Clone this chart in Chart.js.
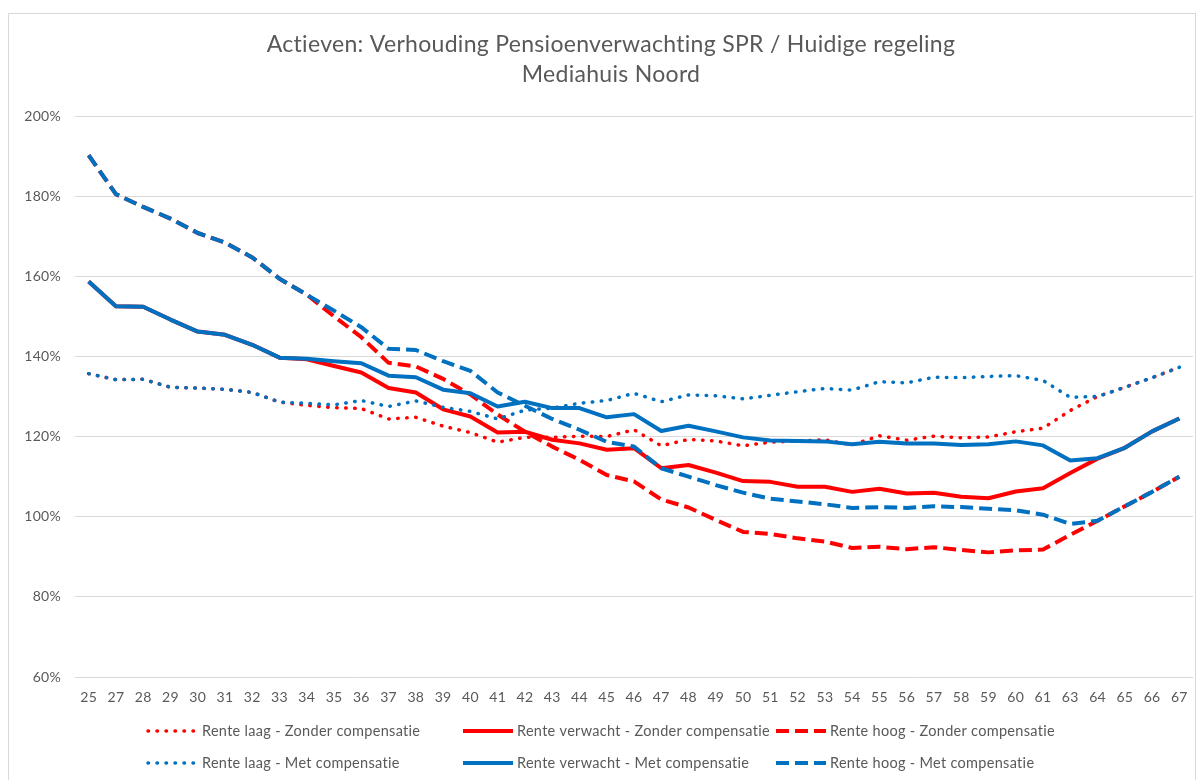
<!DOCTYPE html>
<html>
<head>
<meta charset="utf-8">
<title>Actieven: Verhouding Pensioenverwachting SPR / Huidige regeling</title>
<script src="https://cdn.jsdelivr.net/npm/chart.js@4/dist/chart.umd.min.js"></script>
<style>
  html, body { margin: 0; padding: 0; background: #fff; }
  #wrap { width: 1200px; height: 780px; }
</style>
</head>
<body>
<div id="wrap"><canvas id="spr" width="1200" height="780"></canvas></div>
<script>
// Leeftijden op de x-as (26 en 62 ontbreken in het origineel)
const leeftijden = [25, 27, 28, 29, 30, 31, 32, 33, 34, 35, 36, 37, 38, 39, 40, 41, 42, 43, 44, 45, 46,
    47, 48, 49, 50, 51, 52, 53, 54, 55, 56, 57, 58, 59, 60, 61, 63, 64, 65, 66, 67];

// Waarden in procenten
const laagZonder = [135.7, 134.2, 134.3, 132.3, 132.1, 131.8, 131.0, 128.6, 127.8, 127.2, 127.0, 124.4, 124.8, 122.6, 121.0, 118.6, 119.8, 119.8, 120.1, 120.0, 121.7,
    117.7, 119.3, 118.9, 117.7, 118.6, 118.9, 119.2, 117.9, 120.2, 119.1, 120.1, 119.7, 119.9, 121.2, 122.1, 126.5, 130.0, 132.3, 134.7, 137.3];
const verwachtZonder = [158.7, 152.5, 152.4, 149.2, 146.2, 145.4, 142.9, 139.7, 139.3, 137.6, 136.0, 132.1, 131.0, 126.8, 125.0, 121.0, 121.2, 119.2, 118.3, 116.7, 117.1,
    112.1, 112.9, 111.0, 108.9, 108.7, 107.5, 107.5, 106.2, 107.0, 105.8, 106.0, 105.0, 104.6, 106.3, 107.1, 110.9, 114.5, 117.2, 121.3, 124.5];
const hoogZonder = [190.2, 180.5, 177.3, 174.4, 170.8, 168.4, 164.7, 159.4, 155.4, 150.0, 144.8, 138.4, 137.5, 134.4, 130.5, 125.5, 121.2, 117.5, 114.2, 110.4, 108.8,
    104.3, 102.3, 99.2, 96.2, 95.7, 94.6, 93.8, 92.2, 92.5, 91.9, 92.4, 91.7, 91.1, 91.6, 91.8, 95.5, 99.0, 102.6, 106.2, 110.0];
const laagMet = [135.7, 134.2, 134.3, 132.3, 132.1, 131.8, 131.0, 128.6, 128.3, 127.9, 129.0, 127.5, 128.9, 127.3, 126.3, 124.4, 126.6, 127.1, 128.3, 129.0, 130.8,
    128.7, 130.4, 130.2, 129.4, 130.3, 131.2, 132.0, 131.6, 133.7, 133.4, 134.8, 134.7, 135.0, 135.2, 134.0, 129.8, 130.0, 132.3, 134.7, 137.3];
const verwachtMet = [158.7, 152.5, 152.4, 149.2, 146.2, 145.4, 142.9, 139.7, 139.4, 138.8, 138.3, 135.2, 134.8, 131.7, 130.8, 127.5, 128.7, 127.1, 127.1, 124.8, 125.6,
    121.4, 122.7, 121.3, 119.8, 119.0, 118.9, 118.8, 118.1, 118.7, 118.3, 118.3, 117.9, 118.1, 118.8, 117.8, 114.0, 114.6, 117.2, 121.3, 124.5];
const hoogMet = [190.2, 180.5, 177.3, 174.4, 170.8, 168.4, 164.7, 159.4, 155.4, 151.4, 147.3, 141.9, 141.6, 138.8, 136.4, 131.0, 127.7, 124.4, 121.7, 118.7, 117.5,
    112.1, 110.0, 107.9, 106.0, 104.5, 103.8, 103.1, 102.2, 102.4, 102.2, 102.6, 102.4, 102.0, 101.6, 100.5, 98.2, 99.0, 102.6, 106.2, 110.0];

const reeksNamen = [
    'Rente laag - Zonder compensatie', 'Rente verwacht - Zonder compensatie', 'Rente hoog - Zonder compensatie',
    'Rente laag - Met compensatie', 'Rente verwacht - Met compensatie', 'Rente hoog - Met compensatie'
];
const titelRegels = ['Actieven: Verhouding Pensioenverwachting SPR / Huidige regeling', 'Mediahuis Noord'];
const yTicks = [60, 80, 100, 120, 140, 160, 180, 200];

const ROOD = '#FF0000';
const BLAUW = '#0070C0';
const TEKST = '#595959';
const FONT = 'Lato';

// lijnstijlen: stippel, doorgetrokken, streep
const stijlen = {
    laag: { borderWidth: 3.5, borderDash: [0.5, 8.5], borderCapStyle: 'round' },
    verwacht: { borderWidth: 4, borderDash: [], borderCapStyle: 'butt' },
    hoog: { borderWidth: 4, borderDash: [13, 6], borderCapStyle: 'butt' }
};

function maakReeks(naam, data, kleur, stijl, volgorde) {
    return Object.assign({
        label: naam,
        data: data,
        borderColor: kleur,
        backgroundColor: kleur,
        pointRadius: 0,
        tension: 0,
        fill: false,
        borderJoinStyle: 'round',
        order: volgorde
    }, stijl);
}

const reeksen = [
    maakReeks(reeksNamen[0], laagZonder, ROOD, stijlen.laag, 6),
    maakReeks(reeksNamen[1], verwachtZonder, ROOD, stijlen.verwacht, 5),
    maakReeks(reeksNamen[2], hoogZonder, ROOD, stijlen.hoog, 4),
    maakReeks(reeksNamen[3], laagMet, BLAUW, stijlen.laag, 3),
    maakReeks(reeksNamen[4], verwachtMet, BLAUW, stijlen.verwacht, 2),
    maakReeks(reeksNamen[5], hoogMet, BLAUW, stijlen.hoog, 1)
];

// iets letterafstand: breder zoals Calibri en geen "ti"-ligatuur
const letterPlugin = {
    id: 'letters',
    beforeLayout(chart) { chart.ctx.letterSpacing = '0.3px'; },
    beforeDraw(chart) { chart.ctx.letterSpacing = '0.3px'; }
};

// witte achtergrond en rand om de grafiek, zoals in Excel
const randPlugin = {
    id: 'rand',
    beforeDraw(chart) {
        const ctx = chart.ctx;
        ctx.save();
        ctx.fillStyle = '#ffffff';
        ctx.fillRect(0, 0, chart.width, chart.height);
        ctx.strokeStyle = '#D9D9D9';
        ctx.lineWidth = 1;
        ctx.strokeRect(8.5, 13.5, chart.width - 13, chart.height + 20);
        ctx.restore();
    }
};

// titel: Excel zet hem iets rechts van het midden
const titelPlugin = {
    id: 'titel',
    afterDraw(chart) {
        const ctx = chart.ctx;
        ctx.save();
        ctx.fillStyle = TEKST;
        ctx.font = '23px ' + FONT;
        ctx.textAlign = 'center';
        ctx.textBaseline = 'middle';
        titelRegels.forEach((regel, i) => {
            ctx.fillText(regel, 611, 45 + i * 30);
        });
        ctx.restore();
    }
};

// legenda in 3 kolommen en 2 rijen
const legendaPlugin = {
    id: 'legenda3x2',
    afterDraw(chart) {
        const ctx = chart.ctx;
        const kolomX = [148, 463, 776];
        const rijY = [731, 763];
        ctx.save();
        chart.data.datasets.forEach((ds, i) => {
            const x = kolomX[i % 3];
            const y = rijY[Math.floor(i / 3)];
            ctx.beginPath();
            ctx.strokeStyle = ds.borderColor;
            ctx.lineWidth = ds.borderWidth;
            ctx.lineCap = ds.borderCapStyle;
            ctx.setLineDash(ds.borderDash);
            ctx.moveTo(x, y);
            ctx.lineTo(x + 50, y);
            ctx.stroke();
            ctx.setLineDash([]);
            ctx.fillStyle = TEKST;
            ctx.font = '14.5px ' + FONT;
            ctx.textBaseline = 'middle';
            ctx.textAlign = 'left';
            ctx.fillText(ds.label, x + 54, y);
        });
        ctx.restore();
    }
};

const ctx = document.getElementById('spr').getContext('2d');
const sprChart = new Chart(ctx, {
    type: 'line',
    data: {
        labels: leeftijden,
        datasets: reeksen
    },
    options: {
        responsive: false,
        animation: false,
        layout: { padding: { left: 0, right: 7, top: 116, bottom: 0 } },
        plugins: {
            legend: { display: false },
            tooltip: { enabled: false },
            title: { display: false }
        },
        scales: {
            x: {
                offset: true,
                grid: { display: false, drawTicks: false },
                border: { display: false },
                ticks: {
                    autoSkip: false,
                    maxRotation: 0,
                    padding: 12,
                    color: TEKST,
                    font: { family: FONT, size: 14 }
                },
                afterFit(scale) { scale.height = 103; }
            },
            y: {
                min: yTicks[0],
                max: yTicks[yTicks.length - 1],
                afterBuildTicks(scale) { scale.ticks = yTicks.map(v => ({ value: v })); },
                grid: { color: '#D9D9D9', lineWidth: 1, drawTicks: false },
                border: { display: false },
                ticks: {
                    padding: 14,
                    color: TEKST,
                    font: { family: FONT, size: 14 },
                    callback: v => v + '%'
                },
                afterFit(scale) { scale.width = 75; }
            }
        }
    },
    plugins: [letterPlugin, randPlugin, titelPlugin, legendaPlugin]
});
</script>
</body>
</html>
